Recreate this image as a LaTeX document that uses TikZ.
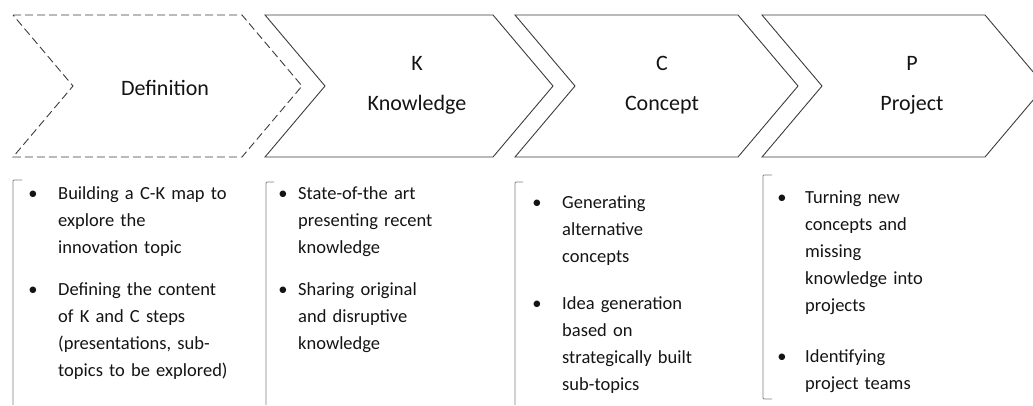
\documentclass[tikz,border=0pt]{standalone}
\usepackage{fontspec}
\setmainfont{Carlito}
\usepackage{xcolor}
\definecolor{inkgray}{RGB}{20,20,20}
\definecolor{linegray}{RGB}{60,60,60}
\definecolor{bracketgray}{RGB}{128,128,128}
\usepackage{tikz}
\newcommand{\titlesize}{\fontsize{22}{40}\selectfont}
\newcommand{\bodysize}{\fontsize{18.5}{27}\selectfont}
\tikzset{
    chevron/.style={draw=linegray, line width=0.9pt, line join=miter},
    plan/.style={chevron, dash pattern=on 8pt off 4pt},
    title/.style={anchor=base, align=center, text width=160pt, inner sep=0pt, font=\titlesize, text=inkgray},
    item/.style={anchor=base west, align=left, text width=200pt, inner sep=0pt, font=\bodysize, text=inkgray},
    dot/.style={anchor=base, inner sep=0pt, font=\bodysize, text=inkgray},
    bracket/.style={draw=bracketgray, line width=0.8pt, rounded corners=1pt}
}

\begin{document}
\begin{tikzpicture}[x=1pt, y=-1pt]
  \useasboundingbox (0,0) rectangle (1033,405);

  % the four steps
  \draw[plan] (13,15) -- ++(229,0) -- ++(60,71) -- ++(-60,71) -- ++(-229,0) -- ++(60,-71) -- cycle;
  \foreach \x/\w in {265/228, 515/223, 762/223}
    \draw[chevron] (\x,15) -- ++(\w,0) -- ++(60,71) -- ++(-60,71) -- ++(-\w,0) -- ++(60,-71) -- cycle;

  \path
    (165,95) node[title] (def) {Definition}
    (417,70) node[title] (know) {K\\Knowledge}
    (662,70) node[title] (conc) {C\\Concept}
    (912,70) node[title] (proj) {P\\Project};

  % Definition
  \draw[bracket] (22,180) -- (13,180) -- (13,405);
  \path
    (33,199) node[dot] (def-a-dot) {\textbullet}
    (58,199) node[item] (def-a) {Building a C-K map to\\explore the\\innovation topic}
    (33,295) node[dot] (def-b-dot) {\textbullet}
    (58,295) node[item] (def-b) {Defining the content\\of K and C steps\\(presentations, sub-\\topics to be explored)};

  % Knowledge
  \draw[bracket] (274,182) -- (266,182) -- (266,405);
  \path
    (283,199) node[dot] (know-a-dot) {\textbullet}
    (298,199) node[item] (know-a) {State-of-the art\\presenting recent\\knowledge}
    (283,295) node[dot] (know-b-dot) {\textbullet}
    (298,295) node[item] (know-b) {Sharing original\\and disruptive\\knowledge};

  % Concept
  \draw[bracket] (523,182) -- (515,182) -- (515,405);
  \path
    (537,208) node[dot] (conc-a-dot) {\textbullet}
    (562,208) node[item] (conc-a) {Generating\\alternative\\concepts}
    (537,309) node[dot] (conc-b-dot) {\textbullet}
    (562,309) node[item] (conc-b) {Idea generation\\based on\\strategically built\\sub-topics};

  % Project
  \draw[bracket] (772,175) -- (763,175) -- (763,399) -- (772,399);
  \path
    (782,203) node[dot] (proj-a-dot) {\textbullet}
    (805,203) node[item] (proj-a) {Turning new\\concepts and\\missing\\knowledge into\\projects}
    (782,362) node[dot] (proj-b-dot) {\textbullet}
    (805,362) node[item] (proj-b) {Identifying\\project teams};
\end{tikzpicture}
\end{document}
